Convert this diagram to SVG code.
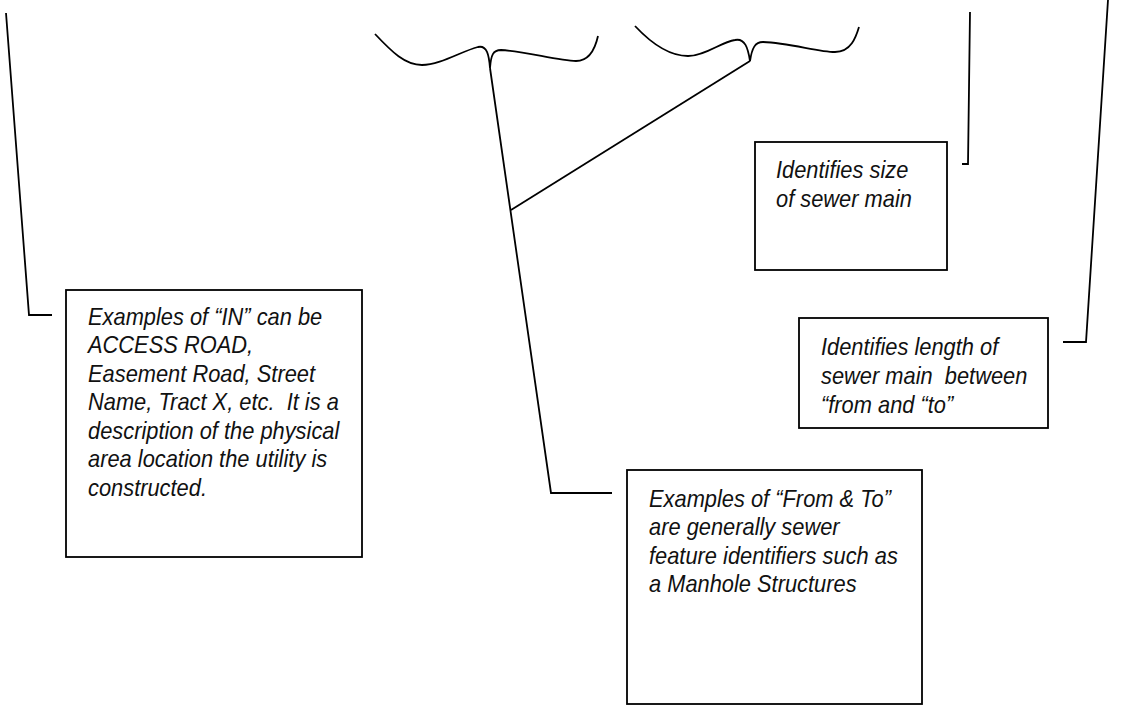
<svg xmlns="http://www.w3.org/2000/svg" width="1144" height="708" viewBox="0 0 1144 708">
<style>
.box{fill:#fff;stroke:#000;stroke-width:1.8}
.ln{fill:none;stroke:#000;stroke-width:1.8;stroke-linejoin:miter}
.t{font-family:"Liberation Sans",Arial,sans-serif;font-style:italic;font-size:23px;fill:#111}
</style>
<rect width="1144" height="708" fill="#fff"/>
<g id="connectors">
<path class="ln" d="M6,13 L29,315 L52,315"/>
<path class="ln" d="M375,34 C392,52 405,65 422,65 C440,65 462,51 478,47 C487,45 489,55 490,68 C491,55 493,50 501,50 C525,51 558,61 576,61 C591,61 596,45 598,36"/>
<path class="ln" d="M635,26 C650,42 668,56 688,56 C705,56 721,42 735,40 C745,38 748,48 750,61 C752,48 755,42 763,42 C790,43 818,52 835,52 C851,52 856,37 859,27"/>
<path class="ln" d="M490,68 L551,493 L612,493"/>
<path class="ln" d="M750,61 L511,210"/>
<path class="ln" d="M970,12 L968,164 L962,164"/>
<path class="ln" d="M1108,0 L1086,342 L1063,342"/>
</g>
<g id="in-box">
<rect class="box" x="66" y="290" width="296" height="267"/>
<g transform="translate(88,0) scale(0.95,1)">
<text class="t" x="0" y="325">Examples of “IN” can be</text>
<text class="t" x="0" y="353.5">ACCESS ROAD,</text>
<text class="t" x="0" y="382">Easement Road, Street</text>
<text class="t" x="0" y="410.5" xml:space="preserve">Name, Tract X, etc.  It is a</text>
<text class="t" x="0" y="439">description of the physical</text>
<text class="t" x="0" y="467.5">area location the utility is</text>
<text class="t" x="0" y="496">constructed.</text>
</g>
</g>
<g id="size-box">
<rect class="box" x="755" y="142" width="192" height="128"/>
<g transform="translate(776,0) scale(0.95,1)">
<text class="t" x="0" y="178">Identifies size</text>
<text class="t" x="0" y="207">of sewer main</text>
</g>
</g>
<g id="length-box">
<rect class="box" x="799" y="318" width="249" height="110"/>
<g transform="translate(821,0) scale(0.95,1)">
<text class="t" x="0" y="355">Identifies length of</text>
<text class="t" x="0" y="384" xml:space="preserve">sewer main  between</text>
<text class="t" x="0" y="413">“from and “to”</text>
</g>
</g>
<g id="fromto-box">
<rect class="box" x="627" y="470" width="295" height="234"/>
<g transform="translate(649,0) scale(0.95,1)">
<text class="t" x="0" y="507">Examples of “From &amp; To”</text>
<text class="t" x="0" y="535.5">are generally sewer</text>
<text class="t" x="0" y="564">feature identifiers such as</text>
<text class="t" x="0" y="592.5">a Manhole Structures</text>
</g>
</g>
</svg>
